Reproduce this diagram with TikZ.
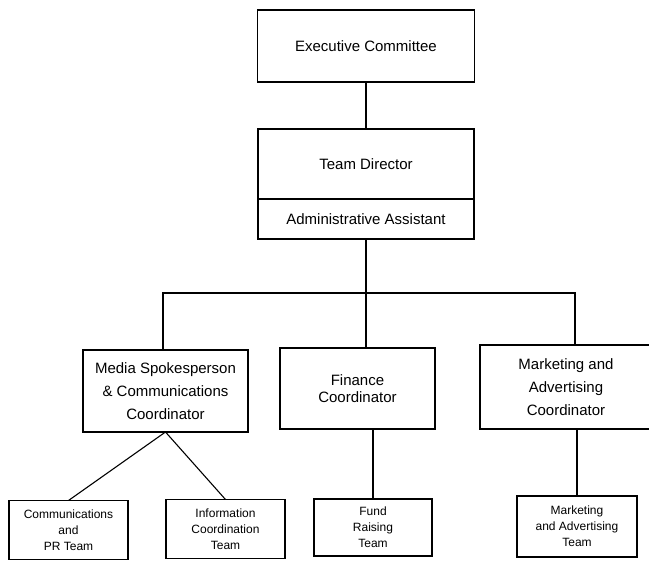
\documentclass[tikz,border=0pt]{standalone}
\usepackage{fontspec}
\setmainfont{Liberation Sans}
\usetikzlibrary{positioning}

\begin{document}
\begin{tikzpicture}[x=1pt,y=-1pt,line width=1.1pt,
  unit/.style={draw,align=center,inner sep=0pt,outer sep=0pt,
               font=\fontsize{15}{23}\selectfont,minimum width=#1},unit/.default=216pt,
  team/.style={draw,align=center,inner sep=0pt,outer sep=0pt,
               font=\fontsize{12}{16}\selectfont,minimum width=119pt,minimum height=59pt}]
  \useasboundingbox (0,0) rectangle (649,561);
  \clip (0,0) rectangle (649,561);
  \node[unit=217pt,minimum height=72pt] (exec) at (366,46) {Executive Committee};
  \node[unit,minimum height=70pt,below=47pt of exec] (dir) {Team Director};
  \node[unit,minimum height=40pt,below=0pt of dir] (admin) {Administrative Assistant};
  \node[unit=165pt,minimum height=82pt] (media) at (165.5,391)
    {Media Spokesperson\\\& Communications\\Coordinator};
  \node[unit=155pt,minimum height=81pt,font=\fontsize{15}{17}\selectfont] (fin) at (357.5,388.5)
    {Finance\\Coordinator};
  \node[unit=172pt,minimum height=84pt] (mcoord) at (566,387)
    {Marketing and\\Advertising\\Coordinator};
  \node[team] (comms) at (68.5,530) {Communications\\and\\PR Team};
  \node[team] (info) at (225.5,529) {Information\\Coordination\\Team};
  \node[team,minimum width=118pt,minimum height=57pt] (fund) at (373,527.5) {Fund\\Raising\\Team};
  \node[team,minimum width=120pt,minimum height=61pt] (mteam) at (577,526.5)
    {Marketing\\and Advertising\\Team};
  \coordinate (fork) at (366,293);
  \coordinate (barL) at (163,293);
  \coordinate (barR) at (575,293);
  \draw (exec) -- (dir);
  \draw (admin) -- (fork);
  \draw (barL |- media.north) -- (barL) -- (barR) -- (barR |- mcoord.north);
  \draw (fork) -- (fork |- fin.north);
  \draw (comms.north) -- (media.south) -- (info.north);
  \foreach \a/\b in {fin/fund,mcoord/mteam}
    \draw (\b.north |- \a.south) -- (\b.north);
\end{tikzpicture}
\end{document}
